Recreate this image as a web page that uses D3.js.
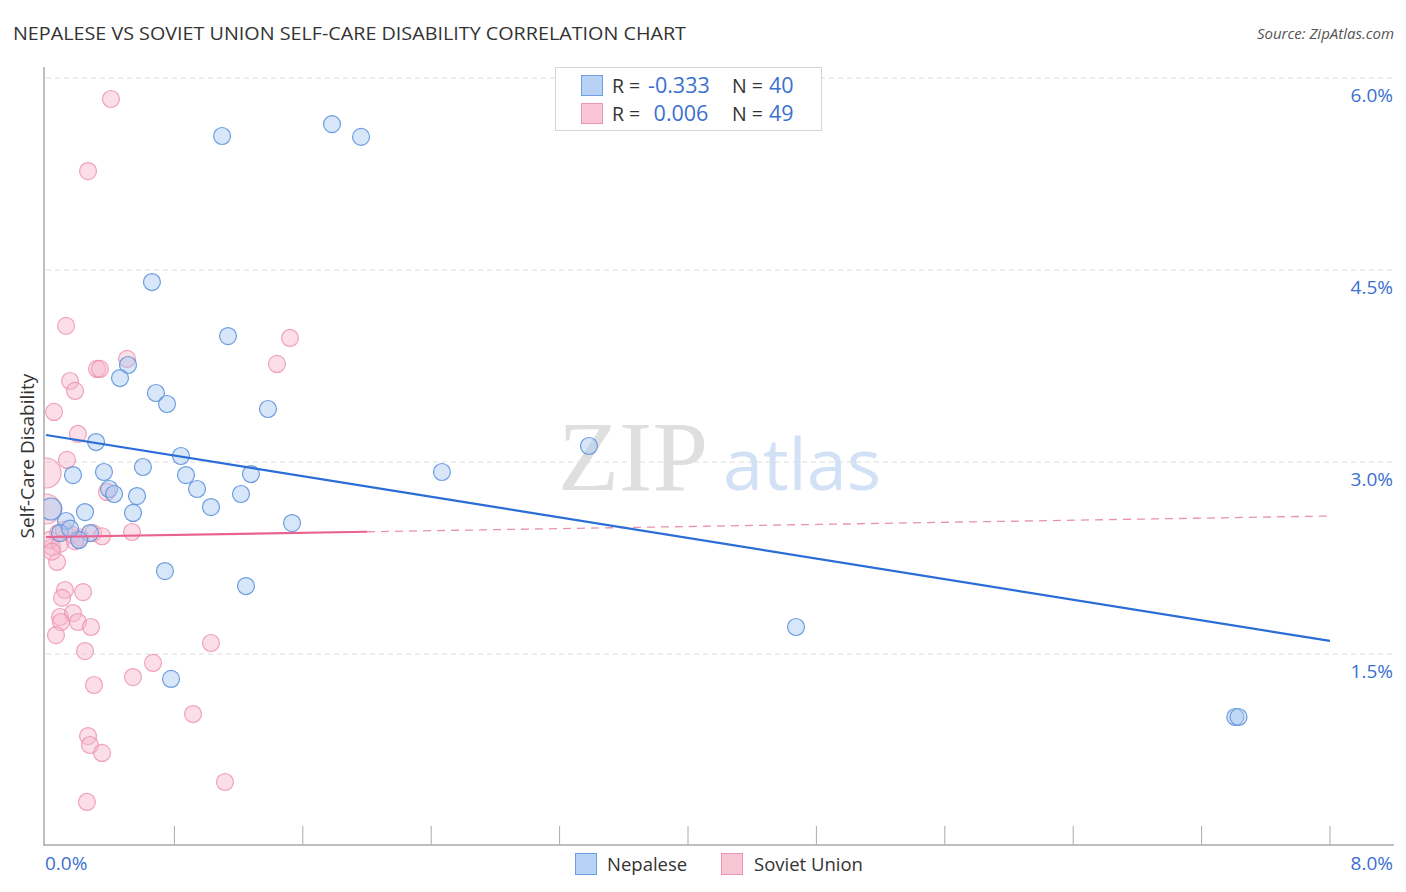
<!DOCTYPE html>
<html><head><meta charset="utf-8">
<script src="https://cdn.jsdelivr.net/npm/d3@7"></script>
<style>body{margin:0;background:#fff;font-family:"Open Sans",sans-serif}</style>
</head><body><svg id="c" width="1406" height="892"></svg>
<script>
const nepaleseX = [1.097,1.782,1.963,0.660,1.134,0.511,0.461,0.685,0.754,1.383,0.312,3.383,0.841,0.604,0.361,0.168,0.872,2.467,1.277,0.393,0.941,0.424,0.567,1.215,1.028,0.542,0.243,0.030,0.125,1.533,0.274,0.206,0.741,1.246,4.673,0.779,7.410,7.430,0.087,0.150];
const nepaleseY = [5.547,5.640,5.540,4.406,3.984,3.758,3.656,3.539,3.453,3.414,3.156,3.125,3.047,2.961,2.922,2.898,2.898,2.922,2.906,2.789,2.789,2.750,2.734,2.750,2.648,2.602,2.609,2.633,2.539,2.523,2.445,2.391,2.148,2.031,1.711,1.305,1.008,1.008,2.445,2.480];
const nepaleseBig = [27];
const sovietX = [0.405,0.262,0.125,1.520,0.505,0.318,0.336,0.150,0.181,0.050,1.439,0.199,0.131,0.000,0.380,0.000,0.075,0.293,0.536,0.037,0.069,0.118,0.231,0.100,0.087,0.168,0.093,0.199,0.280,0.062,0.243,0.667,0.542,0.299,1.028,0.916,0.262,0.274,0.349,1.115,0.255,0.025,0.162,0.112,0.212,0.087,0.349,0.037,0.181];
const sovietY = [5.836,5.273,4.063,3.969,3.805,3.727,3.727,3.633,3.555,3.391,3.766,3.219,3.016,2.914,2.766,2.633,2.445,2.445,2.453,2.336,2.219,2.000,1.984,1.938,1.789,1.820,1.750,1.750,1.711,1.648,1.523,1.430,1.320,1.258,1.586,1.031,0.859,0.789,0.727,0.500,0.344,2.391,2.430,2.470,2.410,2.360,2.420,2.300,2.380];
const sovietBig = [13,15];
const yTicks = [1.5,3.0,4.5,6.0];
const xTickVals = [0,0.8,1.6,2.4,3.2,4.0,4.8,5.6,6.4,7.2,8.0];
const nepaleseTrend = [[0,3.211],[8,1.602]];
const sovietTrendSolid = [[0,2.414],[2.0,2.455]];
const sovietTrendDash = [[2.0,2.455],[8,2.578]];
const legendRows = [{r:"-0.333",n:"40",fill:"#b7d2f5",stroke:"#6f9fe0"},{r:" 0.006",n:"49",fill:"#f9c6d5",stroke:"#ec97b2"}];
const seriesNames = ["Nepalese","Soviet Union"];

const svg = d3.select("#c");
const x = d3.scaleLinear().domain([0,8]).range([46,1330]);
const y = d3.scaleLinear().domain([0,6]).range([846,78]);

svg.append("defs").append("clipPath").attr("id","plot").append("rect").attr("x",44).attr("y",60).attr("width",1360).attr("height",786);

// title
svg.append("text").attr("x",13).attr("y",40).attr("font-size",18).attr("fill","#333").attr("textLength",673).attr("lengthAdjust","spacingAndGlyphs").text("NEPALESE VS SOVIET UNION SELF-CARE DISABILITY CORRELATION CHART");
svg.append("text").attr("x",1394).attr("y",39).attr("text-anchor","end").attr("font-size",15).attr("font-style","italic").attr("fill","#555").text("Source: ZipAtlas.com");

// watermark
svg.append("text").attr("x",633).attr("y",490).attr("text-anchor","middle").attr("font-family","'Liberation Serif',serif").attr("font-size",100).attr("fill","#d8d8d8").attr("opacity",0.8).text("ZIP");
svg.append("text").attr("x",802).attr("y",490).attr("text-anchor","middle").attr("font-size",72).attr("fill","#c8daf3").attr("opacity",0.8).text("atlas");

// gridlines
svg.append("g").selectAll("line").data(yTicks).join("line")
  .attr("x1",46).attr("x2",1394).attr("y1",d=>y(d)).attr("y2",d=>y(d))
  .attr("stroke","#dcdcdc").attr("stroke-dasharray","5,4");
svg.append("g").selectAll("text").data(yTicks).join("text")
  .attr("x",1393).attr("y",d=>y(d)+24).attr("text-anchor","end").attr("font-size",19).attr("fill","#3b70d0")
  .text(d=>d.toFixed(1)+"%");

// axes
svg.append("line").attr("x1",44).attr("x2",44).attr("y1",67).attr("y2",846).attr("stroke","#aaa").attr("stroke-width",1.5);
svg.append("line").attr("x1",44).attr("x2",1394).attr("y1",845).attr("y2",845).attr("stroke","#aaa").attr("stroke-width",1.5);
svg.append("g").selectAll("line").data(xTickVals.slice(1)).join("line")
  .attr("x1",d=>x(d)).attr("x2",d=>x(d)).attr("y1",826).attr("y2",845).attr("stroke","#aaa");
svg.append("text").attr("x",45).attr("y",870).attr("font-size",19).attr("fill","#3b70d0").text("0.0%");
svg.append("text").attr("x",1393).attr("y",870).attr("text-anchor","end").attr("font-size",19).attr("fill","#3b70d0").text("8.0%");

svg.append("text").attr("transform","translate(34,456) rotate(-90)").attr("text-anchor","middle").attr("font-size",19).attr("fill","#333").text("Self-Care Disability");

// points
const pts = svg.append("g").attr("clip-path","url(#plot)");
const pink = sovietX.map((v,i)=>({x:v,y:sovietY[i],big:sovietBig.includes(i)}));
const blue = nepaleseX.map((v,i)=>({x:v,y:nepaleseY[i],big:nepaleseBig.includes(i)}));
pts.append("g").selectAll("circle").data(pink).join("circle")
  .attr("cx",d=>x(d.x)).attr("cy",d=>y(d.y)).attr("r",d=>d.big?15:8.5)
  .attr("fill","#f7b6ca").attr("fill-opacity",0.45).attr("stroke","#ec8fad").attr("stroke-width",1.2).attr("stroke-opacity",0.8);
pts.append("g").selectAll("circle").data(blue).join("circle")
  .attr("cx",d=>x(d.x)).attr("cy",d=>y(d.y)).attr("r",d=>d.big?11:8.5)
  .attr("fill","#a9c8f2").attr("fill-opacity",0.45).attr("stroke","#5e93dc").attr("stroke-width",1.2).attr("stroke-opacity",0.9);

// trend lines
const line = d3.line().x(d=>x(d[0])).y(d=>y(d[1]));
svg.append("path").attr("d",line(sovietTrendDash)).attr("stroke","#e991ad").attr("stroke-width",1.3).attr("stroke-dasharray","8,6").attr("fill","none");
svg.append("path").attr("d",line(nepaleseTrend)).attr("stroke","#2a6dd6").attr("stroke-width",2.2).attr("fill","none");
svg.append("path").attr("d",line(sovietTrendSolid)).attr("stroke","#e8638f").attr("stroke-width",2.2).attr("fill","none");

// legend box
const lg = svg.append("g");
lg.append("rect").attr("x",555.5).attr("y",67.5).attr("width",266).attr("height",63).attr("fill","#fff").attr("stroke","#d5d5d5");
legendRows.forEach((r,i)=>{
  const yy = 75 + i*28;
  lg.append("rect").attr("x",581.5).attr("y",yy+0.5).attr("width",21).attr("height",20).attr("fill",r.fill).attr("stroke",r.stroke);
  lg.append("text").attr("x",612).attr("y",yy+18).attr("font-size",19.5).attr("fill","#333").text("R = ");
  lg.append("text").attr("x",648).attr("y",yy+18).attr("font-size",21.5).attr("fill","#3b70d0").attr("xml:space","preserve").text(r.r);
  lg.append("text").attr("x",732).attr("y",yy+18).attr("font-size",19.5).attr("fill","#333").text("N = ");
  lg.append("text").attr("x",769).attr("y",yy+18).attr("font-size",21.5).attr("fill","#3b70d0").text(r.n);
});

// bottom legend
const bl = svg.append("g");
[[575.5,legendRows[0],seriesNames[0],607],[721.5,legendRows[1],seriesNames[1],754]].forEach(([bx,r,name,tx])=>{
  bl.append("rect").attr("x",bx).attr("y",853.5).attr("width",21).attr("height",21).attr("fill",r.fill).attr("stroke",r.stroke);
  bl.append("text").attr("x",tx).attr("y",871).attr("font-size",18.5).attr("fill","#333").text(name);
});
</script></body></html>
